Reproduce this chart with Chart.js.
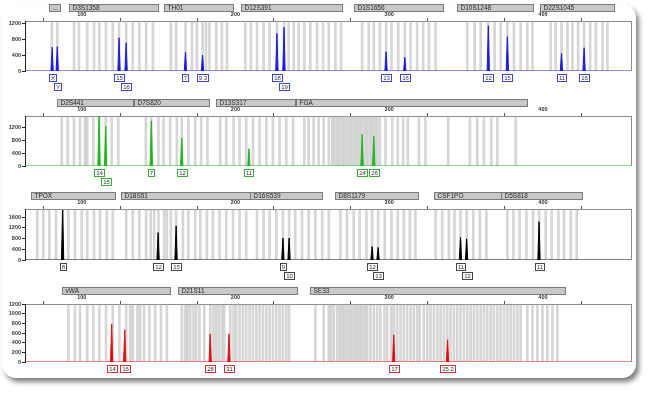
<!DOCTYPE html>
<html>
<head>
<meta charset="utf-8">
<script src="https://cdn.jsdelivr.net/npm/chart.js@4.4.0/dist/chart.umd.min.js"></script>
<style>
	html, body { margin: 0; padding: 0; background: #fff; }
	body { width: 650px; height: 394px; position: relative; overflow: hidden; }
	#card { position: absolute; left: 2px; top: 4px; width: 634px; height: 374px; background: #fff; border-radius: 14px; box-shadow: 3px 4px 5px rgba(0,0,0,0.5); }
	canvas.panel { position: absolute; left: 0; }
</style>
</head>
<body>
<div id="card"></div>
<canvas id="p1" class="panel"></canvas>
<canvas id="p2" class="panel"></canvas>
<canvas id="p3" class="panel"></canvas>
<canvas id="p4" class="panel"></canvas>
<script>
// size range shown (bp) and size ticks
const X_MIN = 63.1;
const X_MAX = 457.3;
const sizeTicks = [100, 150, 200, 250, 300, 350, 400, 450];

// ---- blue dye ----
const blueLoci = ['...', 'D3S1358', 'TH01', 'D12S391', 'D1S1656', 'D10S1248', 'D22S1045'];
const blueLocusStart = [78.9, 91.7, 153.2, 203.8, 277.4, 344.0, 397.8];
const blueLocusEnd = [85.9, 149.9, 198.1, 269.4, 335.2, 393.5, 446.3];
const blueBins = [80.5, 84.1, 95.0, 98.2, 103.6, 108.0, 111.5, 115.8, 120.2, 124.3, 128.9, 133.2, 137.5, 141.9, 146.3,
	158.0, 161.4, 167.5, 171.7, 174.9, 178.6, 180.8, 183.1, 187.5, 191.2, 194.5,
	206.4, 210.1, 214.0, 218.3, 222.2, 227.0, 231.6, 234.6, 237.9, 241.1, 244.8, 248.7, 253.1, 257.0, 260.7, 265.0, 268.7,
	282.4, 286.7, 290.0, 293.9, 298.0, 301.5, 305.9, 310.2, 313.9, 318.2, 322.1, 325.8, 330.2,
	350.8, 355.6, 359.5, 364.5, 368.6, 372.5, 376.9, 381.2, 385.5, 389.9, 393.2,
	405.1, 408.3, 412.1, 416.0, 419.2, 422.9, 426.8, 430.7, 434.4, 438.8, 442.0];
const blueSizes = [80.8, 84.1, 124.3, 128.9, 167.5, 178.6, 227.0, 231.6, 298.0, 310.2, 364.5, 376.9, 412.1, 426.8];
const blueHeights = [592, 607, 832, 707, 467, 400, 942, 1092, 482, 342, 1132, 857, 442, 582];
const blueAlleles = ['X', 'Y', '15', '16', '7', '9.3', '18', '19', '13', '16', '12', '15', '11', '16'];
const blueRfuTicks = [0, 400, 800, 1200];

// ---- green dye ----
const greenLoci = ['D2S441', 'D7S820', 'D13S317', 'FGA'];
const greenLocusStart = [83.7, 134.3, 187.5, 239.4];
const greenLocusEnd = [133.2, 182.9, 238.5, 389.9];
const greenBins = [87.0, 90.9, 95.0, 98.9, 102.1, 103.6, 107.6, 111.3, 115.6, 119.5, 123.8,
	141.7, 145.3, 149.9, 153.2, 157.5, 161.9, 165.1, 169.4, 173.8, 177.7, 181.8,
	190.1, 194.0, 198.8, 202.7, 207.0, 211.4, 215.7, 220.1, 224.4, 228.7, 233.1, 237.5,
	244.8, 247.6, 250.9, 254.1, 257.4, 260.7, 262.9, 264.4, 266.1, 267.6, 269.4, 270.9, 272.6, 274.3, 275.9,
	277.6, 279.2, 280.8, 282.4, 284.1, 285.7, 287.4, 288.9, 290.6, 292.2, 293.9,
	297.6, 302.0, 305.6, 309.1, 312.1, 319.3, 323.6, 338.4, 352.5, 357.3, 361.6, 366.4, 370.4, 382.3];
const greenSizes = [111.3, 115.6, 145.3, 165.1, 208.8, 282.4, 290.0];
const greenHeights = [1565, 1250, 1417, 882, 548, 989, 945];
const greenAlleles = ['14', '15', '7', '12', '11', '24', '26'];
const greenRfuTicks = [0, 400, 800, 1200];

// ---- black (yellow) dye ----
const blackLoci = ['TPOX', 'D18S51', 'D16S539', 'D8S1179', 'CSF1PO', 'D5S818'];
const blackLocusStart = [67.0, 125.6, 209.6, 265.0, 329.1, 372.5];
const blackLocusEnd = [121.7, 209.6, 256.4, 318.9, 372.5, 425.3];
const blackBins = [71.1, 75.0, 78.9, 83.3, 87.6, 91.3, 95.6, 100.0, 103.6, 108.0, 111.9, 116.3, 120.2,
	128.9, 133.2, 137.5, 141.9, 144.9, 147.1, 149.9, 153.6, 155.4, 158.0, 161.4, 165.8, 169.4, 173.8, 177.1,
	181.4, 185.3, 189.6, 194.0, 198.4, 202.7, 207.0,
	214.0, 218.3, 222.2, 226.6, 230.9, 234.9, 238.9, 243.3, 247.6, 252.0, 256.4, 260.7,
	268.3, 272.6, 276.9, 280.8, 285.2, 288.9, 292.8, 297.1, 301.5, 305.6, 309.5, 313.4, 317.1,
	330.2, 334.5, 338.8, 342.5, 346.4, 350.4, 354.7, 359.0, 363.2,
	376.9, 380.8, 384.9, 389.3, 393.6, 397.5, 401.8, 405.7, 410.1, 413.7, 418.1, 422.0];
const blackSizes = [87.6, 149.7, 161.4, 230.9, 234.9, 288.9, 292.8, 346.4, 350.4, 397.5];
const blackHeights = [1862, 1021, 1270, 815, 815, 503, 466, 837, 789, 1429];
const blackAlleles = ['8', '12', '15', '9', '10', '12', '13', '11', '12', '11'];
const blackRfuTicks = [0, 400, 800, 1200, 1600];

// ---- red dye ----
const redLoci = ['vWA', 'D21S11', 'SE33'];
const redLocusStart = [87.4, 162.9, 248.7];
const redLocusEnd = [157.5, 240.1, 414.4];
const redBins = [91.3, 95.6, 98.9, 103.6, 107.6, 111.5, 115.8, 120.2, 124.5, 128.9, 131.5, 133.2, 136.2, 138.0, 140.6,
	144.0, 147.8, 151.5, 155.4,
	165.1, 167.3, 168.8, 170.6, 172.7, 174.5, 176.6, 179.7, 183.6, 185.7, 187.5, 189.3, 191.2, 192.7, 196.6, 198.8,
	200.5, 202.7, 204.9, 207.0, 209.2, 211.4, 213.6, 215.7, 217.9, 220.1, 222.2, 224.4, 226.6, 228.7, 230.9, 233.1, 234.9,
	252.0, 257.4, 260.7, 262.2, 263.9, 266.1, 267.8, 269.4, 270.9, 272.6, 274.3, 275.9, 277.6, 279.2, 280.8, 282.4,
	284.1, 285.7, 287.8, 290.0, 292.2, 294.3, 296.9, 298.7, 301.3, 303.0, 305.2, 307.4, 309.5, 311.7, 313.9, 316.0,
	318.2, 319.9, 322.5, 324.8, 326.9, 329.1, 331.3, 333.4, 335.6, 337.8, 339.9, 342.1, 344.3, 346.4, 348.6, 350.8,
	353.0, 355.1, 357.3, 359.5, 361.6, 363.8, 366.0, 368.1, 370.4, 372.5, 374.7, 376.9, 379.0, 381.2, 383.4, 385.5,
	389.9, 393.2, 396.4, 399.7, 402.9, 406.2, 409.4];
const redSizes = [119.5, 128.0, 183.6, 195.8, 303.0, 338.0];
const redHeights = [783, 666, 583, 583, 563, 460];
const redAlleles = ['14', '16', '28', '31', '17', '25.2'];
const redRfuTicks = [0, 200, 400, 600, 800, 1000, 1200];

const panels = [
	{ id: 'p1', colour: '#1c1ce0', box: '#3a48c8', loci: blueLoci, starts: blueLocusStart, ends: blueLocusEnd, bins: blueBins,
		sizes: blueSizes, heights: blueHeights, alleles: blueAlleles, ticks: blueRfuTicks, yMax: 1250, plotTop: 21, plotBottom: 71 },
	{ id: 'p2', colour: '#1fb51f', box: '#3aa83a', loci: greenLoci, starts: greenLocusStart, ends: greenLocusEnd, bins: greenBins,
		sizes: greenSizes, heights: greenHeights, alleles: greenAlleles, ticks: greenRfuTicks, yMax: 1570, plotTop: 116, plotBottom: 166 },
	{ id: 'p3', colour: '#000000', box: '#444444', loci: blackLoci, starts: blackLocusStart, ends: blackLocusEnd, bins: blackBins,
		sizes: blackSizes, heights: blackHeights, alleles: blackAlleles, ticks: blackRfuTicks, yMax: 1900, plotTop: 209, plotBottom: 260 },
	{ id: 'p4', colour: '#e01010', box: '#d83030', loci: redLoci, starts: redLocusStart, ends: redLocusEnd, bins: redBins,
		sizes: redSizes, heights: redHeights, alleles: redAlleles, ticks: redRfuTicks, yMax: 1200, plotTop: 304, plotBottom: 362 }
];

const FONT = '"Liberation Sans", Arial, sans-serif';

function tracePoints(sizes, heights) {
	const pts = [{ x: X_MIN, y: 0 }];
	sizes.forEach((s, i) => {
		pts.push({ x: s - 0.8, y: 0 }, { x: s, y: heights[i] }, { x: s + 0.7, y: 0 });
	});
	pts.push({ x: X_MAX, y: 0 });
	return pts;
}

const ephPlugin = {
	id: 'eph',
	afterDraw(chart) {
		const o = chart.options.plugins.eph;
		if (!o) return;
		const { ctx, chartArea: a, scales: { x } } = chart;
		ctx.save();

		// right border of the plot frame
		ctx.strokeStyle = '#8c8c8c';
		ctx.lineWidth = 1;
		ctx.beginPath();
		ctx.moveTo(Math.round(a.right) + 0.5, a.top);
		ctx.lineTo(Math.round(a.right) + 0.5, a.bottom);
		ctx.stroke();

		// locus name bars
		ctx.font = '6.5px ' + FONT;
		ctx.textBaseline = 'middle';
		ctx.textAlign = 'left';
		o.loci.forEach((name, i) => {
			const x0 = Math.round(x.getPixelForValue(o.starts[i])) + 0.5;
			const x1 = Math.round(x.getPixelForValue(o.ends[i])) + 0.5;
			const y0 = Math.round(a.top) - 16.5;
			ctx.fillStyle = '#c8c8c8';
			ctx.fillRect(x0, y0, x1 - x0, 7);
			ctx.strokeStyle = '#7a7a7a';
			ctx.strokeRect(x0, y0, x1 - x0, 7);
			ctx.fillStyle = '#2a2a2a';
			ctx.fillText(name, x0 + 3, y0 + 4);
		});

		// allele call boxes under the peaks
		ctx.font = '6px ' + FONT;
		ctx.textAlign = 'center';
		let lastRight = -Infinity;
		o.alleles.forEach((al, i) => {
			const cx = x.getPixelForValue(o.sizes[i]);
			const w = Math.round(ctx.measureText(al).width + 3);
			let row = 0;
			if (cx - w / 2 < lastRight - 0.5) {
				row = 1;
			} else {
				lastRight = cx + w / 2;
			}
			const bx = Math.round(cx - w / 2) + 0.5;
			const by = Math.round(a.bottom) + 3.5 + row * 9;
			ctx.fillStyle = '#ffffff';
			ctx.fillRect(bx, by, w, 7);
			ctx.strokeStyle = o.box;
			ctx.strokeRect(bx, by, w, 7);
			ctx.fillStyle = '#333';
			ctx.fillText(al, bx + w / 2, by + 4);
		});
		ctx.restore();
	}
};

panels.forEach(p => {
	const canvas = document.getElementById(p.id);
	const top = p.plotTop - 20;
	const height = p.plotBottom - p.plotTop + 46;
	canvas.width = 650;
	canvas.height = height;
	canvas.style.top = top + 'px';
	canvas.style.width = '650px';
	canvas.style.height = height + 'px';

	new Chart(canvas.getContext('2d'), {
		type: 'line',
		data: {
			datasets: [
				{
					type: 'line',
					data: tracePoints(p.sizes, p.heights),
					borderColor: p.colour,
					backgroundColor: p.colour,
					borderWidth: 1,
					fill: 'origin',
					pointRadius: 0,
					tension: 0,
					order: 0
				},
				{
					type: 'bar',
					data: p.bins.map(b => ({ x: b, y: p.yMax })),
					backgroundColor: 'rgba(165,165,165,0.45)',
					barThickness: 2,
					order: 1
				}
			]
		},
		options: {
			responsive: false,
			animation: false,
			events: [],
			layout: { padding: { top: 11, left: 0, right: 19, bottom: 26 } },
			scales: {
				x: {
					type: 'linear',
					position: 'top',
					min: X_MIN,
					max: X_MAX,
					offset: false,
					afterFit: scale => { scale.height = 9; },
					afterBuildTicks: scale => { scale.ticks = sizeTicks.map(v => ({ value: v })); },
					border: { color: '#8c8c8c' },
					grid: { drawOnChartArea: false, tickLength: 3, color: '#555' },
					ticks: {
						autoSkip: false,
						maxRotation: 0,
						padding: 0,
						color: '#333',
						font: { size: 5.5, weight: 'bold', family: FONT },
						callback: v => (v % 100 === 0 ? String(v) : '')
					}
				},
				y: {
					min: 0,
					max: p.yMax,
					afterFit: scale => { scale.width = 25; },
					afterBuildTicks: scale => { scale.ticks = p.ticks.map(v => ({ value: v })); },
					border: { color: '#222' },
					grid: { drawOnChartArea: false, tickLength: 3, color: '#222' },
					ticks: {
						autoSkip: false,
						padding: 1,
						color: '#333',
						font: { size: 5.5, weight: 'bold', family: FONT },
						callback: v => String(v)
					}
				}
			},
			plugins: {
				legend: { display: false },
				tooltip: { enabled: false },
				eph: { loci: p.loci, starts: p.starts, ends: p.ends, sizes: p.sizes, alleles: p.alleles, box: p.box }
			}
		},
		plugins: [ephPlugin]
	});
});
</script>
</body>
</html>
